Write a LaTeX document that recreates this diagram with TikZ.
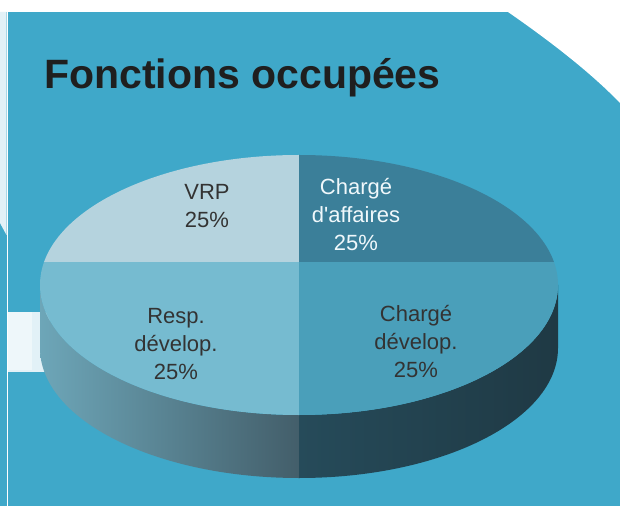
\documentclass[tikz,border=0pt]{standalone}
\usepackage{fontspec}
\setmainfont{Liberation Sans}
\definecolor{fondbleu}{HTML}{3FA8C9}
\definecolor{pale}{HTML}{E2F1F7}
\definecolor{partvrp}{HTML}{B5D3DE}
\definecolor{partaffaires}{HTML}{3B7F99}
\definecolor{partresp}{HTML}{76BBD0}
\definecolor{partdevelop}{HTML}{4A9FBA}
\definecolor{flancA}{HTML}{6DA6B8}
\definecolor{flancB}{HTML}{435E6A}
\definecolor{flancC}{HTML}{264B5A}
\definecolor{flancD}{HTML}{1F3944}
\tikzset{
  partlabel/.style={align=center, font=\fontsize{22}{28}\selectfont, text=black!80},
}

\begin{document}
\begin{tikzpicture}[x=1pt,y=1pt]
			%%%%% START %%%%%
			\useasboundingbox (0,0) rectangle (620,506);
			\fill[fondbleu] (0,0) rectangle (620,506);
			
			\fill[white] (0,494) rectangle (620,506);
			\fill[white] (508,494) .. controls (560,458) and (596,428) .. (620,403) -- (620,494) -- cycle;
			\fill[pale] (0,283) -- (6.5,271) -- (6.5,494) -- (0,494) -- cycle;
			\draw[white, line width=1.2] (7.2,0) -- (7.2,494);
			\fill[pale] (8,134) rectangle (50,194);
			\fill[pale!60!white] (8,136) rectangle (32,194);
			
			% flanc du camembert
			\shade[left color=flancA, right color=flancB] (40,221) -- (40,158) arc[start angle=180, end angle=270, x radius=259, y radius=130] -- (299,91) arc[start angle=270, end angle=180, x radius=259, y radius=130] -- cycle;
			\shade[left color=flancC, right color=flancD] (299,91) -- (299,28) arc[start angle=270, end angle=360, x radius=259, y radius=130] -- (558,221) arc[start angle=360, end angle=270, x radius=259, y radius=130] -- cycle;
			
			% dessus du camembert
			\begin{scope}
				\clip (299,221) ellipse [x radius=259, y radius=130];
				\fill[partvrp] (30,244) rectangle (299,360);
				\fill[partaffaires] (299,244) rectangle (570,360);
				\fill[partresp] (30,80) rectangle (299,244);
				\fill[partdevelop] (299,80) rectangle (570,244);
			\end{scope}
			
			\node[partlabel] (vrp) at (207,300) {VRP\\25\%};
			\node[partlabel, text=white!92!fondbleu] (affaires) at (356,291) {Chargé\\d\textquotesingle affaires\\25\%};
			\node[partlabel] (resp) at (176,162) {Resp.\\dévelop.\\25\%};
			\node[partlabel] (develop) at (416,164) {Chargé\\dévelop.\\25\%};
			
			\node[anchor=base west, inner sep=0pt, text=black!88, font=\bfseries\fontsize{41}{48}\selectfont] (titre) at (44,417) {Fonctions occupées};
			%%%%% END %%%%%
\end{tikzpicture}
\end{document}
